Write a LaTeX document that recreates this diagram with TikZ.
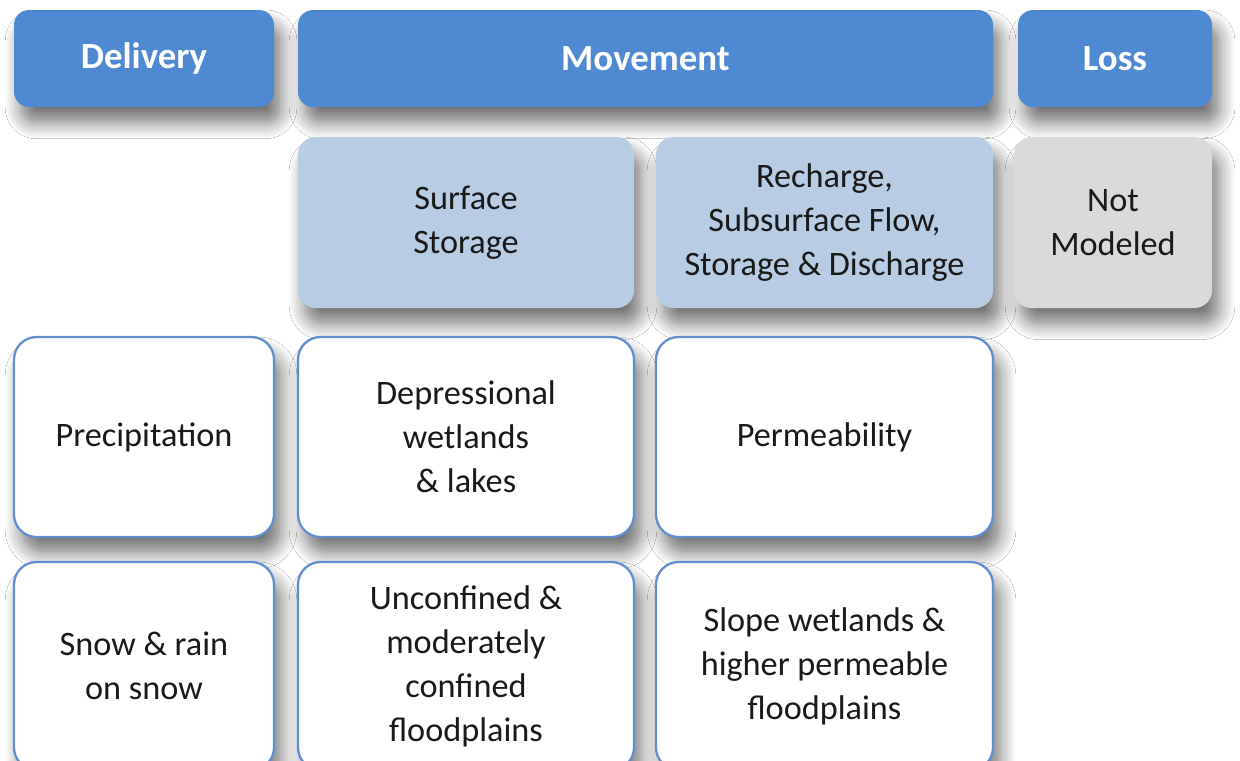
\documentclass[tikz,border=0pt]{standalone}
\usepackage{fontspec}
\setmainfont{Carlito}
\usepackage{tikz}
\usetikzlibrary{shadows.blur}
\definecolor{hdrblue}{RGB}{79,137,210}
\definecolor{paleblue}{RGB}{184,204,228}
\definecolor{palegrey}{RGB}{218,218,218}
\definecolor{edgeblue}{RGB}{98,142,208}

\begin{document}
\begin{tikzpicture}[
 every node/.style={font=\fontsize{19.5}{25}\selectfont,align=center,text=black!90},
 boxshade/.style={blur shadow={shadow xshift=4pt,shadow yshift=-9pt,shadow blur radius=9pt,
   shadow blur steps=10,shadow opacity=55}},
 hdr/.style={rounded corners=.3cm,fill=hdrblue,boxshade,minimum height=1.94cm,
   font=\fontsize{21}{25}\bfseries,text=white},
 subhdr/.style={rounded corners=.35cm,fill=paleblue,boxshade,minimum height=3.42cm},
 lossbox/.style={subhdr,fill=palegrey},
 item/.style={rounded corners=.45cm,draw=edgeblue,line width=1.3pt,fill=white,boxshade}]
 \clip (0,0) rectangle (24.8,-15.2);
 \fill[white] (0,0) rectangle (24.8,-15.2);
 \node[hdr,minimum width=5.2cm] (deliv) at (2.88,-1.17) {Delivery};
 \node[hdr,minimum width=13.9cm] (move) at (12.91,-1.17) {Movement};
 \node[hdr,minimum width=3.88cm] (loss) at (22.3,-1.17) {Loss};
 \node[subhdr,minimum width=6.72cm] (surf) at (9.32,-4.45) {Surface\\Storage};
 \node[subhdr,minimum width=6.74cm] (rech) at (16.49,-4.45) {Recharge,\\Subsurface Flow,\\Storage \& Discharge};
 \node[lossbox,minimum width=3.96cm] (notmod) at (22.26,-4.45) {Not\\Modeled};
 \node[item,minimum width=5.2cm,minimum height=4cm] (precip) at (2.88,-8.74) {Precipitation};
 \node[item,minimum width=6.72cm,minimum height=4cm] (depr) at (9.32,-8.74) {Depressional\\wetlands\\\& lakes};
 \node[item,minimum width=6.74cm,minimum height=4cm] (perm) at (16.49,-8.74) {Permeability};
 \node[item,minimum width=5.2cm,minimum height=4.16cm] (snow) at (2.88,-13.32) {Snow \& rain\\on snow};
 \node[item,minimum width=6.72cm,minimum height=4.16cm] (uncon) at (9.32,-13.32) {Unconfined \&\\moderately\\confined\\floodplains};
 \node[item,minimum width=6.74cm,minimum height=4.16cm] (slope) at (16.49,-13.32) {Slope wetlands \&\\higher permeable\\floodplains};
\end{tikzpicture}
\end{document}
